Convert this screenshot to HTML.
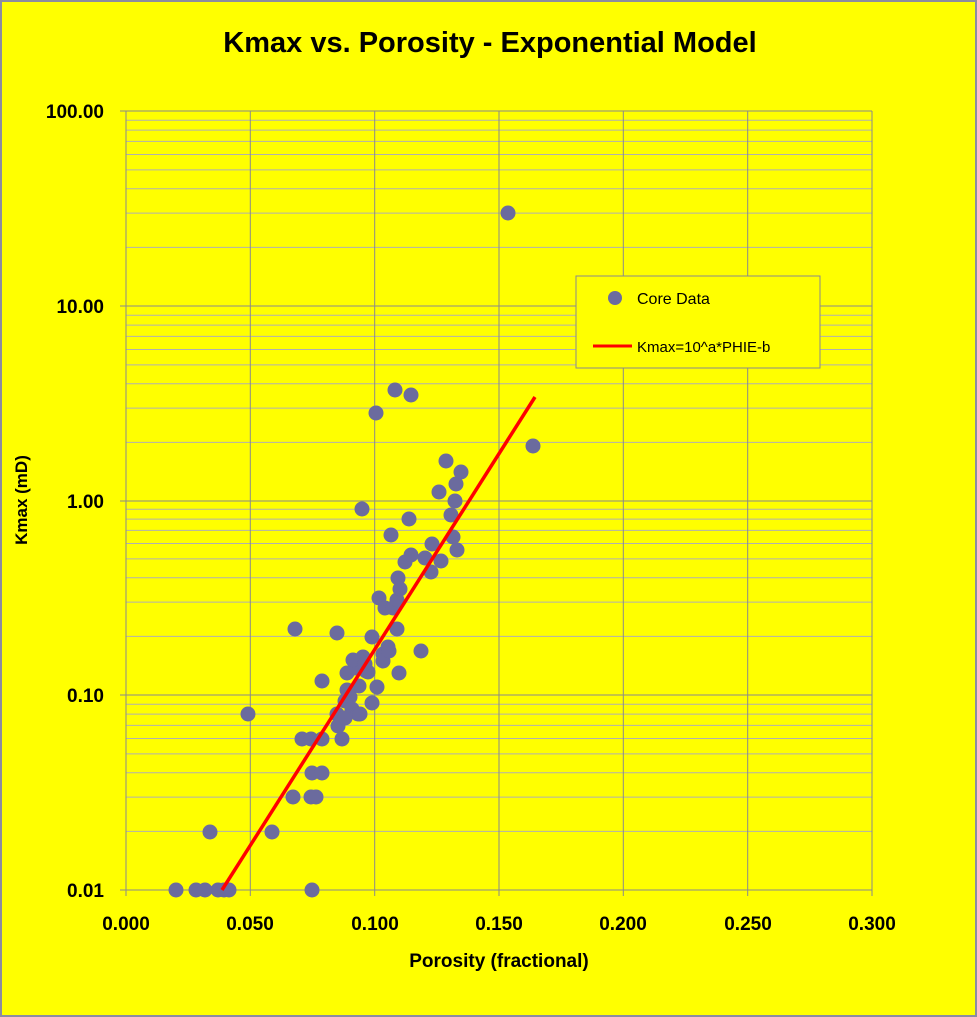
<!DOCTYPE html>
<html><head><meta charset="utf-8"><style>
body{margin:0;background:#fff}
svg{display:block;font-family:"Liberation Sans",sans-serif}
</style></head><body>
<svg width="977" height="1017" viewBox="0 0 977 1017" xmlns="http://www.w3.org/2000/svg">
<rect x="1" y="1" width="975" height="1015" fill="#ffff00" stroke="#8c8ca0" stroke-width="2"/>
<text x="490" y="52" text-anchor="middle" font-size="29" font-weight="bold">Kmax vs. Porosity - Exponential Model</text>
<path fill="none" stroke="#b0b0b0" stroke-width="1" d="M126 247.4H872M126 213.1H872M126 188.8H872M126 169.9H872M126 154.5H872M126 141.4H872M126 130.1H872M126 120.2H872
M126 442.4H872M126 408.1H872M126 383.8H872M126 364.9H872M126 349.5H872M126 336.4H872M126 325.1H872M126 315.2H872
M126 636.4H872M126 602.1H872M126 577.8H872M126 558.9H872M126 543.5H872M126 530.4H872M126 519.1H872M126 509.2H872
M126 831.4H872M126 797.1H872M126 772.8H872M126 753.9H872M126 738.5H872M126 725.4H872M126 714.1H872M126 704.2H872"/>
<path fill="none" stroke="#8a8a8a" stroke-width="1" d="M120 111H872M120 306H872M120 501H872M120 695H872M120 890H872
M126 111V896M250.3 111V896M374.7 111V896M499 111V896M623.3 111V896M747.7 111V896M872 111V896"/>
<g font-size="19" font-weight="bold" text-anchor="end">
<text x="104" y="118">100.00</text><text x="104" y="313">10.00</text><text x="104" y="508">1.00</text><text x="104" y="702">0.10</text><text x="104" y="897">0.01</text>
</g>
<g font-size="19" font-weight="bold" text-anchor="middle">
<text x="126" y="930">0.000</text><text x="250" y="930">0.050</text><text x="375" y="930">0.100</text><text x="499" y="930">0.150</text><text x="623" y="930">0.200</text><text x="748" y="930">0.250</text><text x="872" y="930">0.300</text>
</g>
<text x="499" y="967" text-anchor="middle" font-size="19" font-weight="bold">Porosity (fractional)</text>
<text transform="translate(27,500) rotate(-90)" text-anchor="middle" font-size="17" font-weight="bold">Kmax (mD)</text>
<g fill="#6b6b9e">
<circle cx="176" cy="890" r="7.5"/><circle cx="196" cy="890" r="7.5"/><circle cx="205" cy="890" r="7.5"/><circle cx="218" cy="890" r="7.5"/><circle cx="224" cy="890" r="7.5"/><circle cx="229" cy="890" r="7.5"/><circle cx="312" cy="890" r="7.5"/><circle cx="210" cy="832" r="7.5"/><circle cx="248" cy="714" r="7.5"/><circle cx="272" cy="832" r="7.5"/><circle cx="293" cy="797" r="7.5"/><circle cx="295" cy="629" r="7.5"/><circle cx="302" cy="739" r="7.5"/><circle cx="311" cy="739" r="7.5"/><circle cx="311" cy="797" r="7.5"/><circle cx="316" cy="797" r="7.5"/><circle cx="312" cy="773" r="7.5"/><circle cx="322" cy="773" r="7.5"/><circle cx="322" cy="739" r="7.5"/><circle cx="322" cy="681" r="7.5"/><circle cx="337" cy="633" r="7.5"/><circle cx="337" cy="714" r="7.5"/><circle cx="338" cy="726" r="7.5"/><circle cx="342" cy="739" r="7.5"/><circle cx="345" cy="701" r="7.5"/><circle cx="347" cy="673" r="7.5"/><circle cx="350" cy="697" r="7.5"/><circle cx="352" cy="709" r="7.5"/><circle cx="355" cy="668" r="7.5"/><circle cx="358" cy="714" r="7.5"/><circle cx="359" cy="686" r="7.5"/><circle cx="360" cy="714" r="7.5"/><circle cx="362" cy="509" r="7.5"/><circle cx="363" cy="657" r="7.5"/><circle cx="366" cy="671" r="7.5"/><circle cx="368" cy="672" r="7.5"/><circle cx="372" cy="703" r="7.5"/><circle cx="372" cy="637" r="7.5"/><circle cx="376" cy="413" r="7.5"/><circle cx="377" cy="687" r="7.5"/><circle cx="379" cy="598" r="7.5"/><circle cx="383" cy="654" r="7.5"/><circle cx="383" cy="661" r="7.5"/><circle cx="385" cy="608" r="7.5"/><circle cx="388" cy="647" r="7.5"/><circle cx="389" cy="651" r="7.5"/><circle cx="391" cy="535" r="7.5"/><circle cx="393" cy="608" r="7.5"/><circle cx="395" cy="390" r="7.5"/><circle cx="397" cy="600" r="7.5"/><circle cx="397" cy="629" r="7.5"/><circle cx="399" cy="673" r="7.5"/><circle cx="398" cy="578" r="7.5"/><circle cx="400" cy="589" r="7.5"/><circle cx="405" cy="562" r="7.5"/><circle cx="409" cy="519" r="7.5"/><circle cx="411" cy="395" r="7.5"/><circle cx="411" cy="555" r="7.5"/><circle cx="421" cy="651" r="7.5"/><circle cx="425" cy="558" r="7.5"/><circle cx="431" cy="572" r="7.5"/><circle cx="432" cy="544" r="7.5"/><circle cx="439" cy="492" r="7.5"/><circle cx="441" cy="561" r="7.5"/><circle cx="446" cy="461" r="7.5"/><circle cx="451" cy="515" r="7.5"/><circle cx="453" cy="537" r="7.5"/><circle cx="455" cy="501" r="7.5"/><circle cx="456" cy="484" r="7.5"/><circle cx="457" cy="550" r="7.5"/><circle cx="461" cy="472" r="7.5"/><circle cx="508" cy="213" r="7.5"/><circle cx="533" cy="446" r="7.5"/><circle cx="353" cy="660" r="7.5"/><circle cx="347" cy="690" r="7.5"/><circle cx="365" cy="664" r="7.5"/><circle cx="345" cy="718" r="7.5"/>
</g>
<line x1="222" y1="890" x2="535" y2="397" stroke="#ff0000" stroke-width="3.5"/>
<rect x="576" y="276" width="244" height="92" fill="#ffff00" stroke="#8a8a8a"/>
<circle cx="615" cy="298" r="7" fill="#6b6b9e"/>
<text x="637" y="304" font-size="16">Core Data</text>
<line x1="593" y1="346" x2="632" y2="346" stroke="#ff0000" stroke-width="3"/>
<text x="637" y="352" font-size="15">Kmax=10^a*PHIE-b</text>
</svg>
</body></html>
